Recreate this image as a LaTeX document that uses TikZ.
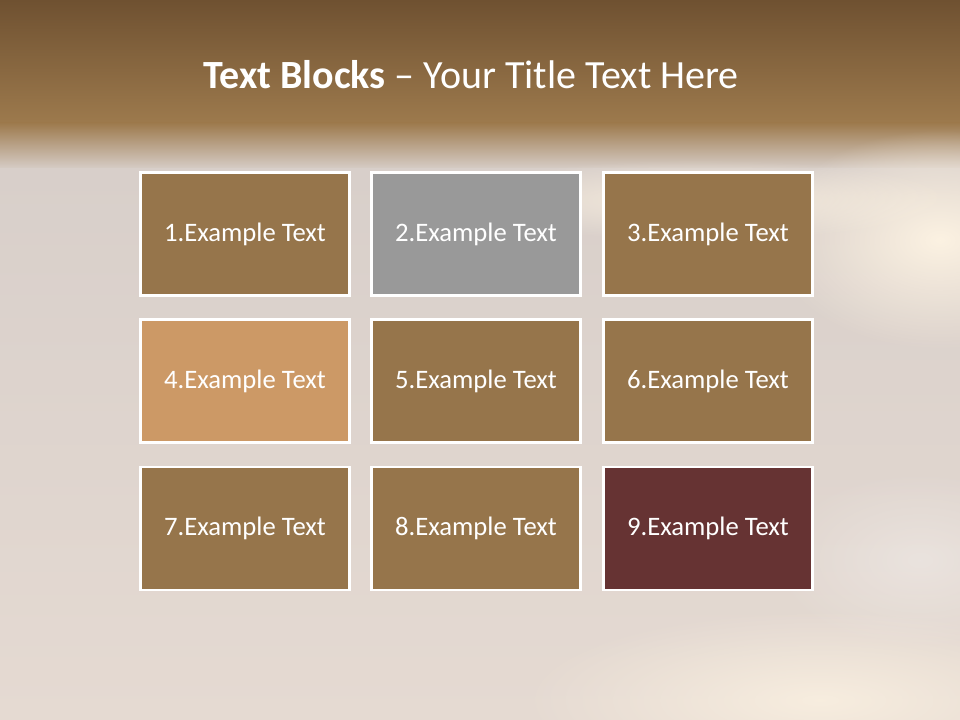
\documentclass[tikz,border=0pt]{standalone}
\usepackage{fontspec}
\setmainfont{Carlito}
\usetikzlibrary{fadings}
\tikzfading[name=glowfade, inner color=transparent!0, outer color=transparent!100]
\definecolor{topA}{HTML}{6F5131}
\definecolor{topB}{HTML}{9D7A4D}
\definecolor{midA}{HTML}{D8CFCA}
\definecolor{botA}{HTML}{E5DAD2}
\definecolor{cream}{HTML}{FCF2E2}
\definecolor{boxbrown}{HTML}{96754B}
\definecolor{boxgray}{HTML}{999999}
\definecolor{boxtan}{HTML}{CC9966}
\definecolor{boxmaroon}{HTML}{663333}
\tikzset{
  tbox/.style={draw=white, line width=2.2pt, minimum width=156.75pt, minimum height=92.25pt,
    inner sep=0pt, text=white, font=\fontsize{20}{24}\selectfont},
}
\begin{document}
\begin{tikzpicture}[x=0.75pt,y=-0.75pt]
\useasboundingbox (0,0) rectangle (960,720);
% background
\shade[top color=topA, bottom color=topB] (0,0) rectangle (960,124);
\shade[top color=topB, bottom color=midA] (0,123) rectangle (960,170);
\shade[top color=midA, bottom color=botA] (0,169) rectangle (960,720);
\fill[cream, path fading=glowfade, opacity=1] (940,240) ellipse (170 and 110);
\fill[cream, path fading=glowfade, opacity=0.8] (700,200) ellipse (260 and 40);
\fill[cream, path fading=glowfade, opacity=0.8] (820,700) ellipse (300 and 90);
\fill[white, path fading=glowfade, opacity=0.3] (920,560) ellipse (150 and 90);
% title
\node (title) at (471,75) {\fontsize{30}{36}\selectfont\color{white}\textbf{Text Blocks} – Your Title Text Here};
% boxes
\node[tbox, fill=boxbrown]  (b1) at (245,234) {1.Example Text};
\node[tbox, fill=boxgray]   (b2) at (476,234) {2.Example Text};
\node[tbox, fill=boxbrown]  (b3) at (708,234) {3.Example Text};
\node[tbox, fill=boxtan]    (b4) at (245,381) {4.Example Text};
\node[tbox, fill=boxbrown]  (b5) at (476,381) {5.Example Text};
\node[tbox, fill=boxbrown]  (b6) at (708,381) {6.Example Text};
\node[tbox, fill=boxbrown]  (b7) at (245,528.5) {7.Example Text};
\node[tbox, fill=boxbrown]  (b8) at (476,528.5) {8.Example Text};
\node[tbox, fill=boxmaroon] (b9) at (708,528.5) {9.Example Text};
\end{tikzpicture}
\end{document}
